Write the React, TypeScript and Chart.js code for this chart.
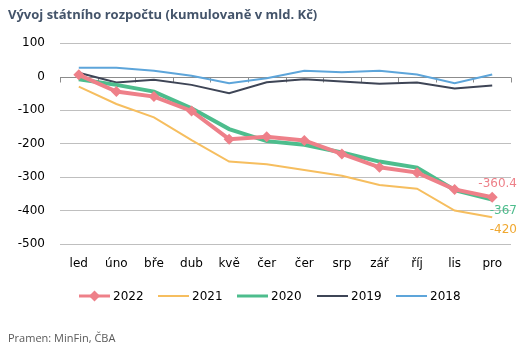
import React, { useEffect, useRef } from "react";
import { Chart, registerables } from "chart.js";

Chart.register(...registerables);

const categories = ["led", "úno", "bře", "dub", "kvě", "čer", "čer", "srp", "zář", "říj", "lis", "pro"];
const yTicks = [100, 0, -100, -200, -300, -400, -500];
const s2022 = [5, -45, -60, -103, -187, -180, -191, -231, -271, -287, -337, -360.4];
const s2021 = [-30, -82, -122, -190, -254, -262, -279, -296, -324, -335, -400, -420];
const s2020 = [-8, -25, -45, -95, -157, -193, -204, -227, -254, -272, -339, -367];
const s2019 = [11, -18, -10, -25, -50, -17, -8, -15, -22, -18, -36, -27];
const s2018 = [26, 26, 17, 2, -20, -5, 17, 13, 17, 6, -20, 6];
const endLabels = ["-360.4", "-367", "-420"];

const C2022 = "#EE8089";
const C2021 = "#F6BE5F";
const C2020 = "#4DBD8D";
const C2019 = "#3E4556";
const C2018 = "#5DA5DA";

const FONT = "'DejaVu Sans', sans-serif";

const series = [
  { label: "2022", data: s2022, color: C2022, width: 4, diamond: true },
  { label: "2021", data: s2021, color: C2021, width: 2, diamond: false },
  { label: "2020", data: s2020, color: C2020, width: 4, diamond: false },
  { label: "2019", data: s2019, color: C2019, width: 2, diamond: false },
  { label: "2018", data: s2018, color: C2018, width: 2, diamond: false },
];

function drawDiamond(ctx: CanvasRenderingContext2D, x: number, y: number, r: number, color: string) {
  ctx.beginPath();
  ctx.moveTo(x, y - r);
  ctx.lineTo(x + r, y);
  ctx.lineTo(x, y + r);
  ctx.lineTo(x - r, y);
  ctx.closePath();
  ctx.fillStyle = color;
  ctx.fill();
}

const decorPlugin = {
  id: "decor",
  beforeDatasetsDraw(chart: any) {
    const ctx = chart.ctx as CanvasRenderingContext2D;
    const { left, right } = chart.chartArea;
    const y0 = chart.scales.y.getPixelForValue(0);
    ctx.save();
    ctx.strokeStyle = "#8C8C8C";
    ctx.lineWidth = 1;
    ctx.beginPath();
    ctx.moveTo(left, Math.round(y0) + 0.5);
    ctx.lineTo(right, Math.round(y0) + 0.5);
    const step = (right - left) / categories.length;
    for (let i = 0; i <= categories.length; i++) {
      const x = Math.round(left + i * step) + 0.5;
      ctx.moveTo(x, Math.round(y0) + 0.5);
      ctx.lineTo(x, Math.round(y0) + 5.5);
    }
    ctx.stroke();
    ctx.restore();
  },
  afterDatasetsDraw(chart: any) {
    const ctx = chart.ctx as CanvasRenderingContext2D;
    ctx.save();
    // title
    ctx.fillStyle = "#44546A";
    ctx.font = "bold 13px 'Open Sans', sans-serif";
    ctx.textAlign = "left";
    ctx.textBaseline = "middle";
    ctx.fillText("Vývoj státního rozpočtu (kumulovaně v mld. Kč)", 8, 15);
    // end labels
    ctx.font = "12px " + FONT;
    ctx.textAlign = "right";
    const yS = chart.scales.y;
    ctx.fillStyle = C2022;
    ctx.fillText(endLabels[0], 517, yS.getPixelForValue(s2022[11]) - 13);
    ctx.fillStyle = C2020;
    ctx.fillText(endLabels[1], 517, yS.getPixelForValue(s2020[11]) + 11);
    ctx.fillStyle = "#F0A830";
    ctx.fillText(endLabels[2], 517, yS.getPixelForValue(s2021[11]) + 13);
    // legend
    const starts = [79, 158, 237, 317, 396];
    const ly = 296;
    ctx.textAlign = "left";
    ctx.font = "12px " + FONT;
    series.forEach((s, i) => {
      const x = starts[i];
      ctx.strokeStyle = s.color;
      ctx.lineWidth = s.width >= 4 ? 3 : 2;
      ctx.beginPath();
      ctx.moveTo(x, ly);
      ctx.lineTo(x + 31, ly);
      ctx.stroke();
      if (s.diamond) drawDiamond(ctx, x + 15.5, ly, 5.5, s.color);
      ctx.fillStyle = "#000000";
      ctx.fillText(s.label, x + 34, ly + 1);
    });
    // source
    ctx.fillStyle = "#595959";
    ctx.font = "11px 'Open Sans', sans-serif";
    ctx.fillText("Pramen: MinFin, ČBA", 8, 339);
    ctx.restore();
  },
};

export default function App() {
  const ref = useRef<HTMLCanvasElement>(null);
  useEffect(() => {
    const chart = new Chart(ref.current!, {
      type: "line",
      data: {
        labels: categories,
        datasets: series.map((s) => ({
          label: s.label,
          data: s.data,
          borderColor: s.color,
          backgroundColor: s.color,
          borderWidth: s.width,
          pointStyle: "rectRot",
          pointRadius: s.diamond ? 5.5 : 0,
          pointBorderWidth: 0,
          pointBackgroundColor: s.color,
          tension: 0,
          order: s.label === "2022" ? 0 : 1,
        })),
      },
      options: {
        animation: false,
        responsive: false,
        maintainAspectRatio: false,
        layout: { padding: { top: 43, bottom: 77, left: 0, right: 12 } },
        plugins: { legend: { display: false }, title: { display: false }, tooltip: { enabled: false } },
        scales: {
          x: {
            offset: true,
            grid: { display: false, drawTicks: false },
            border: { display: false },
            ticks: { color: "#000", font: { family: "'DejaVu Sans', sans-serif", size: 12 }, padding: 13, maxRotation: 0 },
            afterFit: (s: any) => { s.height = 30; },
          },
          y: {
            min: -500,
            max: 100,
            afterBuildTicks: (s: any) => { s.ticks = yTicks.map((v) => ({ value: v })); },
            grid: { color: (c: any) => (c.tick && c.tick.value === 0 ? "rgba(0,0,0,0)" : "#BFBFBF"), drawTicks: false },
            border: { display: false },
            ticks: { color: "#000", font: { family: "'DejaVu Sans', sans-serif", size: 12 }, padding: 15 },
            afterFit: (s: any) => { s.width = 60; },
          },
        },
      },
      plugins: [decorPlugin],
    });
    return () => chart.destroy();
  }, []);
  return (
    <div style={{ position: "fixed", left: 0, top: 0, width: 523, height: 351, background: "#fff" }}>
      <canvas ref={ref} width={523} height={351} style={{ width: 523, height: 351, display: "block" }} />
    </div>
  );
}
